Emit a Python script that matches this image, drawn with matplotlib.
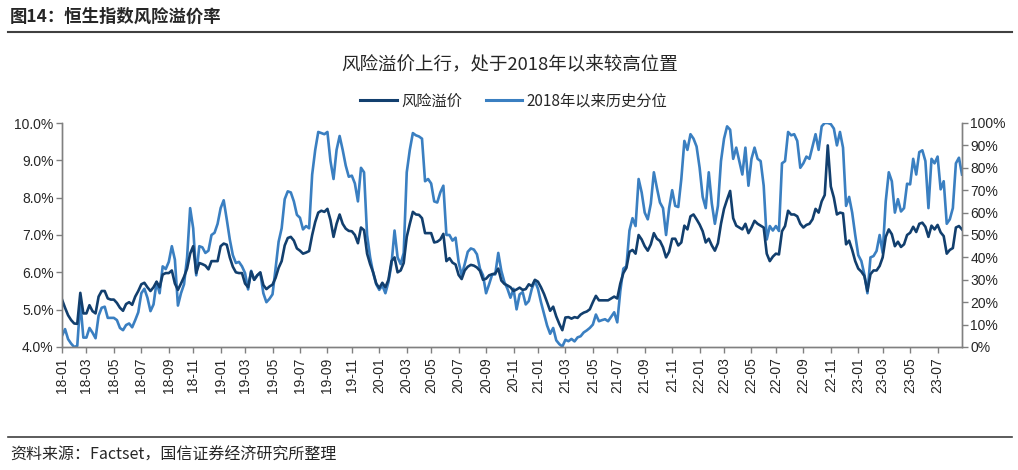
import matplotlib
matplotlib.use("Agg")
import matplotlib.pyplot as plt
import matplotlib.ticker as mticker
from matplotlib.lines import Line2D
import pandas as pd

plt.rcParams['font.family'] = ['Noto Sans CJK SC', 'DejaVu Sans']

# weekly data, first week 2018-01-05
start_date = "2018-01-05"

# 风险溢价 (%)
risk_premium = [
    5.27, 5.05, 4.85, 4.72, 4.63, 4.62, 5.45, 4.90, 4.90, 5.12,
    4.96, 4.90, 5.35, 5.50, 5.50, 5.30, 5.27, 5.27, 5.18, 5.05,
    4.97, 5.15, 5.20, 5.13, 5.35, 5.50, 5.68, 5.72, 5.60, 5.50,
    5.60, 5.75, 5.60, 5.94, 5.98, 5.98, 6.05, 5.70, 5.53, 5.70,
    5.88, 6.10, 6.50, 6.70, 5.98, 6.25, 6.22, 6.18, 6.08, 6.30,
    6.30, 6.30, 6.70, 6.77, 6.74, 6.40, 6.15, 6.00, 5.98, 5.98,
    5.70, 5.60, 6.02, 5.80, 5.92, 6.00, 5.66, 5.55, 5.62, 5.67,
    5.85, 6.12, 6.30, 6.72, 6.92, 6.95, 6.85, 6.64, 6.58, 6.50,
    6.53, 6.57, 7.00, 7.35, 7.60, 7.65, 7.62, 7.70, 7.40, 6.95,
    7.30, 7.55, 7.30, 7.17, 7.11, 7.10, 7.00, 6.78, 7.20, 7.13,
    6.50, 6.22, 6.00, 5.70, 5.58, 5.72, 5.60, 5.80, 6.30, 6.40,
    6.00, 6.05, 6.25, 6.95, 7.30, 7.62, 7.55, 7.54, 7.45, 7.05,
    7.05, 7.05, 6.80, 6.82, 6.88, 7.03, 6.30, 6.38, 6.26, 6.21,
    5.93, 5.82, 6.05, 6.15, 6.20, 6.18, 6.13, 6.04, 5.80, 5.83,
    5.92, 5.95, 5.97, 6.10, 5.78, 5.69, 5.65, 5.60, 5.50, 5.54,
    5.59, 5.53, 5.55, 5.68, 5.63, 5.80, 5.75, 5.60, 5.42, 5.20,
    4.97, 5.08, 4.82, 4.62, 4.45, 4.79, 4.80, 4.76, 4.80, 4.78,
    4.87, 4.92, 4.95, 5.01, 5.20, 5.37, 5.25, 5.25, 5.25, 5.25,
    5.30, 5.35, 5.30, 5.70, 5.98, 6.12, 6.55, 6.60, 6.50, 7.00,
    6.88, 6.70, 6.58, 6.75, 7.05, 6.90, 6.84, 6.67, 6.40, 6.55,
    6.90, 6.90, 6.72, 6.80, 7.25, 7.15, 7.50, 7.55, 7.42, 7.28,
    7.10, 6.80, 6.90, 6.72, 6.58, 6.78, 7.30, 7.70, 7.95, 8.18,
    7.45, 7.25, 7.20, 7.15, 7.30, 7.05, 7.20, 7.38, 7.30, 7.25,
    7.20, 6.50, 6.30, 6.42, 6.50, 6.48, 7.10, 7.24, 7.65, 7.55,
    7.55, 7.50, 7.30, 7.20, 7.27, 7.30, 7.42, 7.70, 7.60, 7.90,
    8.07, 9.40, 8.30, 8.00, 7.55, 7.60, 7.58, 6.75, 6.85, 6.60,
    6.30, 6.10, 6.02, 5.90, 5.50, 5.95, 6.05, 6.05, 6.17, 6.40,
    6.95, 7.15, 7.02, 6.70, 6.82, 6.68, 6.75, 7.00, 7.06, 7.22,
    7.08, 7.30, 7.33, 7.22, 6.95, 7.25, 7.15, 7.27, 7.07, 6.97,
    6.50, 6.60, 6.65, 7.20, 7.24, 7.15,
]

# 2018年以来历史分位 (%)
percentile = [
    5, 8, 3.5, 1.5, 0, 0.5, 20, 4.2, 4.2, 8.5,
    6.4, 3.9, 14, 17.5, 18, 13, 13, 13, 12, 8.5,
    7.5, 9.8, 10.5, 8.8, 12, 15.5, 24, 26, 22, 16,
    19, 29, 24, 36, 34.8, 38, 45, 39, 18.5, 24,
    28, 40, 62, 53, 32, 45, 44.5, 42, 43, 50,
    51, 55, 62, 65.5, 57, 48, 41, 37.5, 38, 36,
    33, 25.7, 34, 30, 32, 33, 24, 20, 21.5, 23.5,
    35, 47, 53, 66, 69.5, 69, 65, 59, 57.7, 52.5,
    54, 53, 77, 88, 96, 95.5, 95, 96, 83, 75,
    88, 94.2, 88, 81, 76, 76.5, 73, 65, 80, 78,
    50, 40, 33, 28, 25.5, 27.5, 24, 29, 37, 52,
    40, 37, 42, 78, 88, 95.5, 94.5, 94, 93, 74,
    75, 73, 65, 64.5, 69, 72, 50, 50, 47.5, 48.8,
    38, 32, 37, 42.5, 44, 43.5, 41.4, 35, 32, 24,
    28, 32.4, 32.4, 42, 34, 29, 26, 22, 26, 16.8,
    23.5, 24.5, 19, 20.5, 26, 29.5, 26, 20, 14.8, 9.6,
    5.9, 8.5, 3, 1.3, 0.2, 3.2, 2.6, 3.6, 2.5, 4.3,
    4.8, 6.5, 7.4, 8.5, 10, 14.5, 11.5, 12, 12.4, 11.5,
    13.5, 15.5, 11, 25, 35, 36, 52, 57.5, 54, 75,
    69, 60, 57, 64, 78, 71, 64.5, 62, 50, 62,
    70, 63, 62.5, 75, 92, 88, 95, 93, 89.5, 80,
    67, 62, 78, 64, 55, 63, 83, 93, 98.5, 97,
    84, 89, 83, 77, 89, 72, 84, 89, 84, 83,
    72, 48, 54, 52, 54, 51.8, 82, 83, 96, 94.5,
    95, 92, 80, 82, 85, 84, 89.5, 95, 88, 98.5,
    100, 100, 99.5, 97.5, 90, 96, 89, 63, 67, 60,
    50, 41, 38.4, 32.4, 24, 40, 40.6, 42.9, 50, 42,
    65, 78, 74, 60, 66, 60.5, 62, 72.9, 72.6, 84,
    77, 87, 87.8, 83, 62, 84, 82, 85, 70.4, 74,
    55, 57, 62, 82, 84.5, 77,
]

series_names = ["风险溢价", "2018年以来历史分位"]
left_ticks = [4, 5, 6, 7, 8, 9, 10]
right_ticks = [0, 10, 20, 30, 40, 50, 60, 70, 80, 90, 100]

dark_blue = "#123f6e"
light_blue = "#3a7fc1"
axis_gray = "#808080"
text_color = "#262626"
tick_font = ["Liberation Sans", "DejaVu Sans"]

dates = pd.date_range(start_date, periods=len(risk_premium), freq="7D")

W, H = 1018, 470
fig = plt.figure(figsize=(W / 100, H / 100), dpi=100)
ax = fig.add_axes([62 / W, 1 - 347 / H, 900 / W, 224 / H])
ax2 = ax.twinx()

ax2.plot(dates, percentile, color=light_blue, lw=1.9, label=series_names[1])
ax.plot(dates, risk_premium, color=dark_blue, lw=1.9, label=series_names[0])
ax.set_zorder(ax2.get_zorder() + 1)
ax.patch.set_visible(False)

ax.set_xlim(dates[0], dates[-1])
ax.set_ylim(4, 10)
ax2.set_ylim(0, 100)
ax.set_yticks(left_ticks)
ax2.set_yticks(right_ticks)
ax.yaxis.set_major_formatter(mticker.FuncFormatter(lambda v, p: f"{v:.1f}%"))
ax2.yaxis.set_major_formatter(mticker.FuncFormatter(lambda v, p: f"{v:.0f}%"))

# first week of every odd month (the last week gets no label)
tick_dates = []
seen = set()
for d in dates[:-1]:
    key = (d.year, d.month)
    if d.month % 2 == 1 and key not in seen:
        seen.add(key)
        tick_dates.append(d)
ax.set_xticks(tick_dates)
ax.set_xticklabels([d.strftime("%y-%m") for d in tick_dates], rotation=90)

for a in (ax, ax2):
    a.spines["top"].set_visible(False)
    for s in ("left", "right", "bottom"):
        a.spines[s].set_color(axis_gray)
        a.spines[s].set_linewidth(1.0)
    a.tick_params(axis="both", colors=axis_gray, labelcolor=text_color,
                  labelsize=10, length=4, width=1.0, direction="out")
    for lab in a.get_xticklabels() + a.get_yticklabels():
        lab.set_family(tick_font)
ax.tick_params(axis="y", pad=2)
ax2.tick_params(axis="y", pad=2)

# header and footer
fig.text(10 / W, 1 - 17 / H, "图14：恒生指数风险溢价率", fontsize=12.5,
         fontweight="bold", color=text_color, va="center", ha="left")
fig.add_artist(Line2D([8 / W, 1012 / W], [1 - 32 / H] * 2, color="#404040", lw=1.5))
fig.add_artist(Line2D([8 / W, 1012 / W], [1 - 437 / H] * 2, color="#404040", lw=1.2))
fig.text(10 / W, 1 - 455 / H, "资料来源：Factset，国信证券经济研究所整理", fontsize=11.5,
         color=text_color, va="center", ha="left")

fig.text(510 / W, 1 - 65 / H, "风险溢价上行，处于2018年以来较高位置", fontsize=13.3,
         color=text_color, va="center", ha="center")

handles = [Line2D([], [], color=dark_blue, lw=2.2), Line2D([], [], color=light_blue, lw=2.2)]
fig.legend(handles, series_names, loc="center", bbox_to_anchor=(514 / W, 1 - 101 / H),
           ncol=2, frameon=False, fontsize=11, handlelength=2.4, handletextpad=0.3,
           columnspacing=1.5, labelcolor=text_color)

fig.savefig("out.png", dpi=100)
